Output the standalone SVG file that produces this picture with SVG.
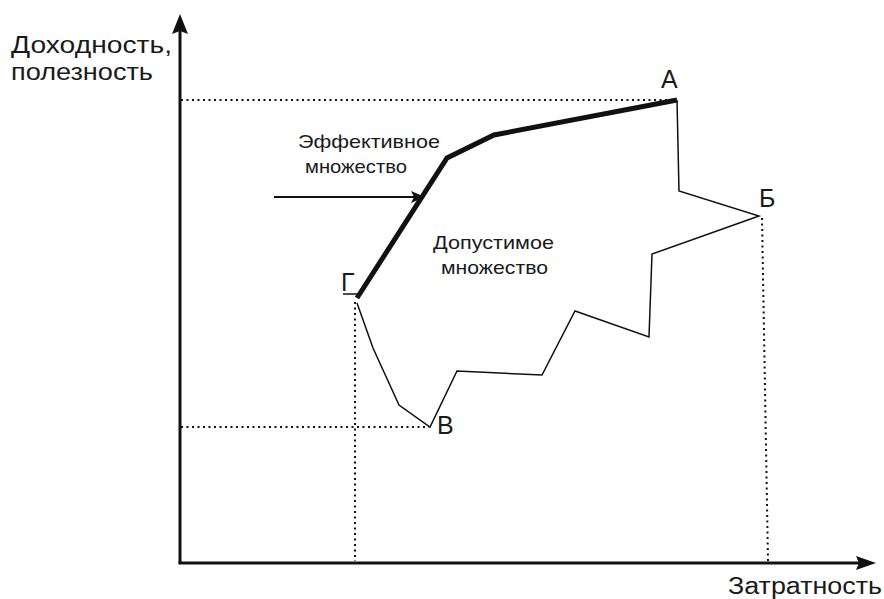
<svg xmlns="http://www.w3.org/2000/svg" width="884" height="599" viewBox="0 0 884 599">
<style>
text{font-family:"Liberation Sans",Arial,sans-serif;fill:#1a1a1a}
.dot{stroke:#111;stroke-width:2;stroke-dasharray:2 3.5;fill:none}
.thin{stroke:#111;stroke-width:1.5;fill:none;stroke-linejoin:miter}
.thick{stroke:#111;stroke-width:5;fill:none;stroke-linejoin:miter}
.axis{stroke:#111;stroke-width:3;fill:none}
.lbl{font-size:25px}
.mid{font-size:19px}
.ax{font-size:23px}
</style>
<defs>
<marker id="ah" markerUnits="userSpaceOnUse" markerWidth="14" markerHeight="12" refX="13" refY="6" orient="auto">
<path d="M0,0 L14,6 L0,12 L3,6 Z" fill="#111"/>
</marker>
</defs>
<rect width="884" height="599" fill="#fff"/>
<g id="axes">
<line class="axis" x1="180" y1="564" x2="180" y2="30"/>
<path d="M180,14 L188,34 L180,31 L172,34 Z" fill="#111"/>
<line class="axis" x1="178.5" y1="563" x2="860" y2="563"/>
<path d="M876,563 L856,570 L859,563 L856,556 Z" fill="#111"/>
<text class="ax" x="11" y="53" textLength="161" lengthAdjust="spacingAndGlyphs">Доходность,</text>
<text class="ax" x="11" y="80" textLength="142" lengthAdjust="spacingAndGlyphs">полезность</text>
<text class="ax" x="728" y="594" textLength="154" lengthAdjust="spacingAndGlyphs">Затратность</text>
</g>
<g id="guides">
<line class="dot" x1="181" y1="100" x2="672" y2="100"/>
<line class="dot" x1="181" y1="427" x2="429" y2="427"/>
<line class="dot" x1="355" y1="302" x2="355" y2="561"/>
<line class="dot" x1="762" y1="218" x2="768" y2="561"/>
</g>
<g id="feasible-set">
<polyline class="thin" points="677,100 679,191 759,216 652,254 649,337 575,311 542,375 457,371 430,427 399,405 373,348 357,303"/>
<text class="mid" x="433" y="249" textLength="121" lengthAdjust="spacingAndGlyphs">Допустимое</text>
<text class="mid" x="441" y="274" textLength="107" lengthAdjust="spacingAndGlyphs">множество</text>
</g>
<g id="efficient-set">
<polyline class="thick" points="357,298 447,158 494,135 677,100"/>
<text class="mid" x="298" y="148" textLength="142" lengthAdjust="spacingAndGlyphs">Эффективное</text>
<text class="mid" x="305" y="173" textLength="102" lengthAdjust="spacingAndGlyphs">множество</text>
</g>
<g id="connectors">
<line x1="274" y1="197" x2="424" y2="197" stroke="#111" stroke-width="2" marker-end="url(#ah)"/>
</g>
<g id="labels">
<text class="lbl" x="661" y="88">А</text>
<text class="lbl" x="759" y="207">Б</text>
<text class="lbl" x="437" y="434">В</text>
<text class="lbl" x="341" y="291">Г</text>
<line x1="343" y1="294" x2="357" y2="294" stroke="#111" stroke-width="1.5"/>
</g>
</svg>
